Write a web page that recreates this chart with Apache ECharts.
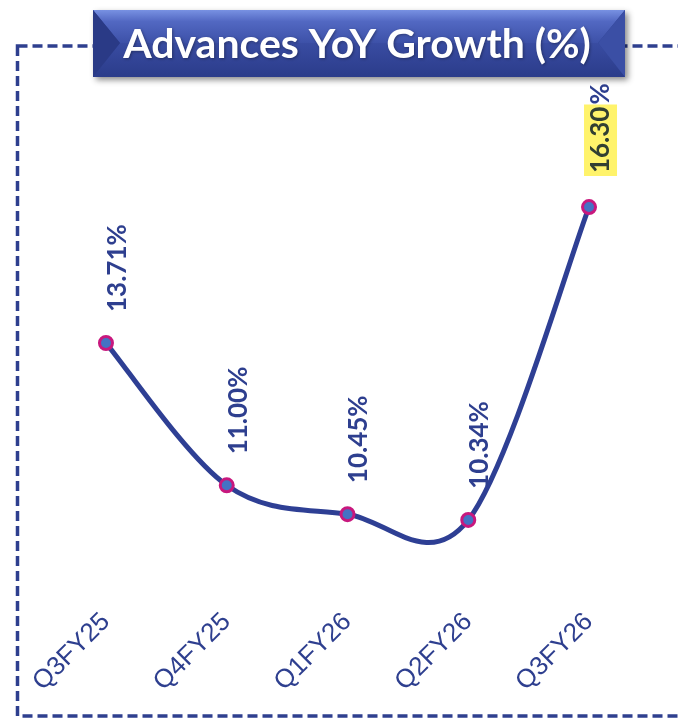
<!DOCTYPE html>
<html><head><meta charset="utf-8">
<script src="https://cdn.jsdelivr.net/npm/echarts@6/dist/echarts.min.js"></script>
<style>html,body{margin:0;padding:0;background:#fff}#c{width:678px;height:720px}</style>
</head><body><div id="c"></div>
<script>
const categories = ['Q3FY25', 'Q4FY25', 'Q1FY26', 'Q2FY26', 'Q3FY26'];
const growthValues = [13.71, 11.00, 10.45, 10.34, 16.30];
const highlightIndex = 4;
const titleText = 'Advances YoY Growth (%)';

const navy = '#2e3f8f';
const chart = echarts.init(document.getElementById('c'), null, { renderer: 'canvas' });

// Excel-style smoothed segment (Catmull-Rom, tension 1/6) computed from data via the axes
function renderSegment(params, api) {
  const i = params.dataIndex;
  const n = growthValues.length;
  if (i >= n - 1) return null;
  const pt = k => api.coord([Math.max(0, Math.min(n - 1, k)), growthValues[Math.max(0, Math.min(n - 1, k))]]);
  const p0 = pt(i - 1), p1 = pt(i), p2 = pt(i + 1), p3 = pt(i + 2);
  return {
    type: 'bezierCurve',
    shape: {
      x1: p1[0], y1: p1[1], x2: p2[0], y2: p2[1],
      cpx1: p1[0] + (p2[0] - p0[0]) / 6, cpy1: p1[1] + (p2[1] - p0[1]) / 6,
      cpx2: p2[0] - (p3[0] - p1[0]) / 6, cpy2: p2[1] - (p3[1] - p1[1]) / 6
    },
    style: { stroke: '#2e3f94', lineWidth: 5, fill: 'none', lineCap: 'round' }
  };
}

const option = {
  animation: false,
  backgroundColor: '#ffffff',
  grid: { left: 45.6, right: 28.6, top: 117.8, bottom: 77.2 },
  xAxis: {
    type: 'category', data: categories, boundaryGap: true,
    axisLine: { show: false }, axisTick: { show: false }, splitLine: { show: false },
    axisLabel: { interval: 0, rotate: 45, margin: -25, color: navy, fontSize: 26, fontFamily: 'Liberation Sans' }
  },
  yAxis: { type: 'value', min: 8, max: 18, show: false },
  series: [{
    type: 'custom', data: growthValues.map((v, i) => [i, v]),
    encode: { x: 0, y: 1 }, renderItem: renderSegment, z: 3, silent: true
  }, {
    type: 'line', data: growthValues,
    symbol: 'circle', symbolSize: 13,
    lineStyle: { width: 0, opacity: 0 },
    itemStyle: { color: '#4472c4', borderColor: '#c8187e', borderWidth: 3 },
    z: 5,
    label: {
      show: true, position: 'inside', rotate: 90, align: 'left', verticalAlign: 'middle',
      offset: [31, 11.5],
      color: navy, fontFamily: 'Lato', fontWeight: 'bold', fontSize: 26,
      formatter: p => p.dataIndex === highlightIndex
        ? '{hl|' + p.value.toFixed(2) + '}{pct|%}'
        : p.value.toFixed(2) + '%',
      rich: {
        hl: { backgroundColor: '#fff36b', color: '#323f32', fontFamily: 'Lato', fontWeight: 'bold', fontSize: 26, padding: [4, 2, 3, 3] },
        pct: { color: navy, fontFamily: 'Lato', fontWeight: 'bold', fontSize: 26 }
      }
    }
  }],
  graphic: [
    { type: 'rect', z: 0, shape: { x: 17.5, y: 46, width: 700, height: 670 },
      style: { fill: 'none', stroke: navy, lineWidth: 3.5, lineDash: [10, 5] } },
    { type: 'rect', z: 100, shape: { x: 93, y: 10, width: 532, height: 67 },
      style: { fill: '#2e4192', shadowBlur: 6, shadowColor: 'rgba(0,0,0,0.45)', shadowOffsetX: 3, shadowOffsetY: 3 } },
    { type: 'polygon', z: 101, shape: { points: [[93, 10], [625, 10], [598, 43], [120, 43]] },
      style: { fill: { type: 'linear', x: 0, y: 0, x2: 0, y2: 1, colorStops: [{ offset: 0, color: '#7891e2' }, { offset: 0.35, color: '#5268c2' }, { offset: 1, color: '#3d51a8' }] } } },
    { type: 'polygon', z: 101, shape: { points: [[93, 77], [625, 77], [598, 43], [120, 43]] },
      style: { fill: { type: 'linear', x: 0, y: 0, x2: 0, y2: 1, colorStops: [{ offset: 0, color: '#394ca2' }, { offset: 1, color: '#2b3c8a' }] } } },
    { type: 'polygon', z: 102, shape: { points: [[93, 10], [93, 77], [120, 43]] },
      style: { fill: '#2a3a86' } },
    { type: 'polygon', z: 102, shape: { points: [[625, 10], [625, 77], [598, 43]] },
      style: { fill: '#3b4fa5' } },
    { type: 'text', z: 110, x: 357, y: 45,
      style: { text: titleText, fill: '#ffffff', font: 'bold 41px Lato', align: 'center', verticalAlign: 'middle',
        textShadowColor: 'rgba(0,0,0,0.35)', textShadowBlur: 3, textShadowOffsetX: 1, textShadowOffsetY: 1 } }
  ]
};
chart.setOption(option);
</script></body></html>
